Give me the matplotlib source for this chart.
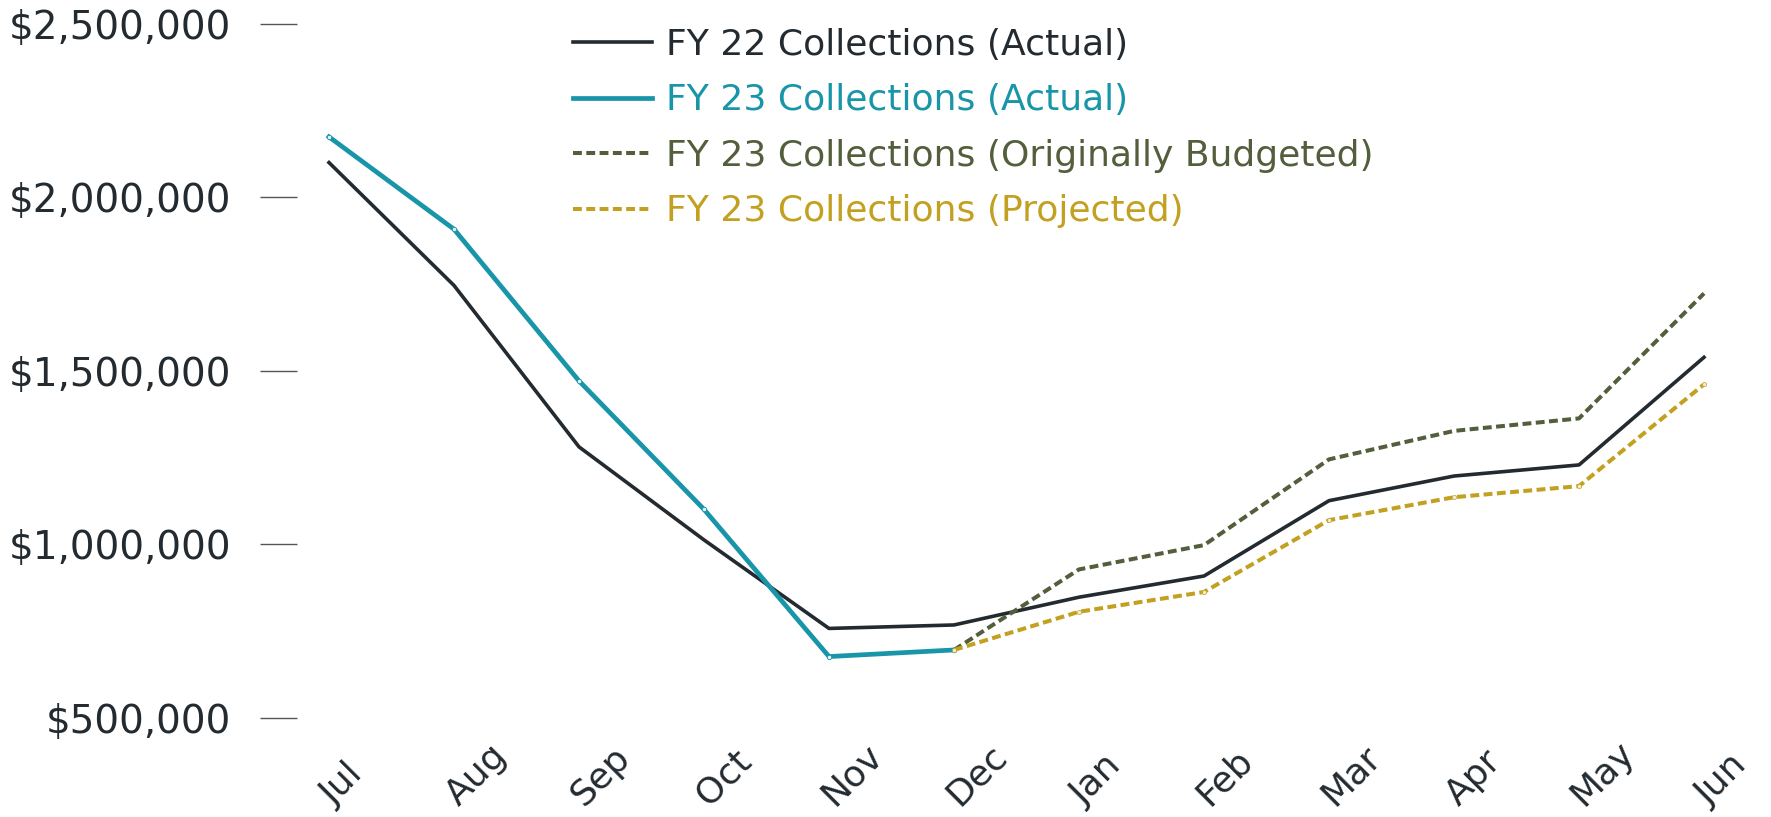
import numpy as np
import matplotlib
matplotlib.use("Agg")
from matplotlib import pyplot as plt

months = ['Jul', 'Aug', 'Sep', 'Oct', 'Nov', 'Dec', 'Jan', 'Feb', 'Mar', 'Apr', 'May', 'Jun']

fy22_actual = [2100000, 1746000, 1281000, 1013000, 758000, 768000,
               848000, 909000, 1126000, 1197000, 1229000, 1539000]
fy23_actual = [2174000, 1908000, 1471000, 1101000, 677000, 696000]
# budget and projection both start from the last actual month (Dec)
fy23_budget = [696000, 928000, 998000, 1245000, 1327000, 1363000, 1723000]
fy23_projected = [696000, 806000, 863000, 1070000, 1136000, 1168000, 1461000]

yticks = [500000, 1000000, 1500000, 2000000, 2500000]
ytick_labels = ['$500,000', '$1,000,000', '$1,500,000', '$2,000,000', '$2,500,000']

c_dark = '#232b31'
c_teal = '#1995a9'
c_olive = '#535e3c'
c_gold = '#c2a020'

plt.rcParams['font.family'] = ['DejaVu Sans']

W, H = 1771, 817
fig = plt.figure(figsize=(W / 100, H / 100), dpi=100)
left, right, top, bottom = 297, 1760, 23.7, 718
ax = fig.add_axes([left / W, 1 - bottom / H, (right - left) / W, (bottom - top) / H])

x = np.arange(len(months))
ax.plot(x, fy22_actual, color=c_dark, lw=2.6, label='FY 22 Collections (Actual)')
ax.plot(x[:6], fy23_actual, color=c_teal, lw=3.4, marker='o', ms=3.2,
        mfc='#e8f2f4', mec=c_teal, mew=0.6, label='FY 23 Collections (Actual)')
ax.plot(x[5:], fy23_budget, color=c_olive, lw=2.9, dashes=(2.2, 1.1),
        label='FY 23 Collections (Originally Budgeted)')
ax.plot(x[5:], fy23_projected, color=c_gold, lw=2.9, dashes=(2.2, 1.1),
        marker='o', ms=3, mfc='#f3ecd2', mec=c_gold, mew=0.5,
        label='FY 23 Collections (Projected)')

ax.set_ylim(500000, 2500000)
ax.set_xlim(-0.256, 11.448)
ax.set_yticks(yticks)
ax.set_yticklabels(ytick_labels)
# labels sit a touch right of the points in the original
ax.set_xticks(x + 0.04)
ax.set_xticklabels(months, rotation=45, ha='left', va='baseline',
                   rotation_mode='anchor')

ax.tick_params(axis='y', length=26.6, width=1.0, color='#555555', pad=21,
               labelsize=28, labelcolor=c_dark)
ax.tick_params(axis='x', length=0, pad=64, labelsize=26, labelcolor=c_dark)
for s in ax.spines.values():
    s.set_visible(False)

leg = fig.legend(loc='upper left', bbox_to_anchor=(573 / W, 1 - 27.5 / H),
                 frameon=False, fontsize=26, handlelength=2.2, handletextpad=0.38,
                 labelspacing=0.6, borderpad=0, borderaxespad=0)
for txt, c in zip(leg.get_texts(), [c_dark, c_teal, c_olive, c_gold]):
    txt.set_color(c)
for line in leg.get_lines():
    line.set_marker('')

fig.savefig('out.png', dpi=100)
